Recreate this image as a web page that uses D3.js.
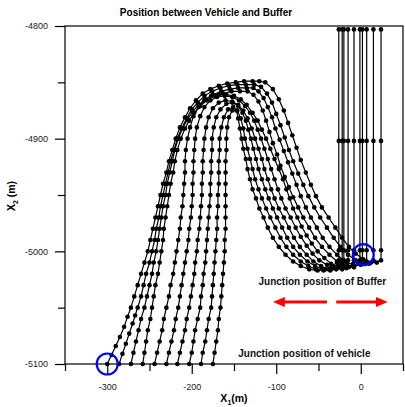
<!DOCTYPE html>
<head>
    <meta charset="utf-8">
    <title>Position between Vehicle and Buffer</title>
    <style>
        body { margin: 0; background: #fff; }
        text { font-family: "Liberation Sans", Arial, sans-serif; }
    </style>
</head>
<body>

<script src="https://d3js.org/d3.v7.min.js"></script>

<script>
// vehicle trajectories [x1, x2] in metres, outermost first
let traj1 = [[-300,-5100],[-295,-5092],[-290,-5084],[-285,-5076],[-280,-5067],[-276,-5058],[-272,-5050],[-268,-5040],[-264,-5030],[-260,-5020],[-256,-5010],[-252,-5000],[-249,-4990],[-246,-4980],[-243,-4970],[-240,-4960],[-237,-4950],[-234,-4940],[-230,-4930],[-227,-4920],[-223,-4910],[-219,-4900],[-214,-4890],[-208,-4881],[-202,-4873],[-195,-4866],[-187,-4860],[-178,-4856],[-168,-4853],[-158,-4851],[-148,-4850],[-138,-4849],[-128,-4849],[-120,-4849],
    [-113,-4850],[-104,-4856],[-97,-4865],[-91,-4875],[-86,-4886],[-81,-4897],[-76,-4908],[-71,-4919],[-65,-4930],[-59,-4941],[-53,-4951],[-46,-4961],[-38,-4970],[-30,-4979],[-22,-4988],[-14,-4996],[-6,-5002],[3,-5007],[12,-5010],[19,-5010],[24,-5008],[24,-4999],[24,-4902],[24,-4803]];
let traj2 = [[-286,-5100],[-282,-5091],[-278,-5082],[-274,-5073],[-270,-5064],[-267,-5057],[-264,-5050],[-260,-5040],[-257,-5030],[-254,-5020],[-250,-5010],[-247,-5000],[-244,-4990],[-242,-4980],[-239,-4970],[-237,-4960],[-234,-4950],[-231,-4940],[-228,-4930],[-225,-4920],[-221,-4910],[-217,-4900],[-212,-4891],[-206,-4882],[-200,-4874],[-193,-4868],[-185,-4862],[-176,-4858],[-166,-4855],[-156,-4853],[-146,-4852],[-136,-4852],[-126,-4852],
    [-118,-4854],[-111,-4860],[-105,-4868],[-100,-4878],[-95,-4888],[-90,-4899],[-85,-4910],[-80,-4920],[-74,-4931],[-68,-4941],[-62,-4951],[-55,-4961],[-48,-4970],[-40,-4979],[-32,-4988],[-24,-4996],[-15,-5003],[-6,-5008],[3,-5011],[10,-5011],[15,-5008],[15,-4999],[15,-4902],[15,-4803]];
let traj3 = [[-272,-5100],[-269,-5090],[-266,-5080],[-263,-5070],[-260,-5060],[-256,-5050],[-253,-5040],[-250,-5030],[-247,-5020],[-245,-5010],[-242,-5000],[-240,-4990],[-238,-4980],[-236,-4970],[-234,-4960],[-231,-4950],[-229,-4940],[-226,-4930],[-223,-4920],[-220,-4910],[-216,-4900],[-211,-4891],[-205,-4883],[-199,-4876],[-192,-4870],[-184,-4865],[-175,-4861],[-165,-4858],[-155,-4856],[-145,-4855],[-135,-4855],[-127,-4855],
    [-121,-4858],[-115,-4864],[-110,-4872],[-105,-4881],[-101,-4891],[-96,-4901],[-91,-4911],[-86,-4921],[-81,-4931],[-76,-4941],[-71,-4951],[-65,-4961],[-59,-4970],[-52,-4979],[-45,-4988],[-37,-4996],[-28,-5003],[-19,-5009],[-9,-5012],[0,-5012],[7,-5009],[7,-4999],[7,-4902],[7,-4803]];
let traj4 = [[-258,-5100],[-256,-5090],[-254,-5080],[-252,-5070],[-249,-5060],[-247,-5050],[-245,-5040],[-243,-5030],[-240,-5020],[-238,-5010],[-236,-5000],[-234,-4990],[-233,-4980],[-231,-4970],[-229,-4960],[-227,-4950],[-225,-4940],[-222,-4930],[-220,-4920],[-217,-4910],[-213,-4900],[-208,-4891],[-203,-4884],[-197,-4877],[-190,-4871],[-182,-4866],[-173,-4862],[-163,-4860],[-153,-4858],[-143,-4858],[-134,-4858],
    [-127,-4861],[-121,-4867],[-116,-4875],[-112,-4884],[-108,-4894],[-104,-4904],[-99,-4914],[-95,-4924],[-90,-4934],[-85,-4943],[-80,-4952],[-74,-4961],[-68,-4970],[-61,-4979],[-54,-4988],[-46,-4996],[-37,-5003],[-28,-5009],[-18,-5013],[-8,-5014],[-1,-5011],[2,-5008],[2,-4999],[2,-4902],[2,-4803]];
let traj5 = [[-244,-5100],[-241,-5090],[-238,-5080],[-235,-5070],[-233,-5060],[-230,-5050],[-227,-5040],[-225,-5030],[-222,-5020],[-220,-5010],[-218,-5000],[-216,-4990],[-214,-4980],[-213,-4970],[-211,-4960],[-210,-4950],[-209,-4940],[-208,-4930],[-208,-4920],[-207,-4910],[-205,-4900],[-202,-4890],[-198,-4880],[-192,-4872],[-185,-4866],[-177,-4862],[-168,-4861],[-159,-4861],[-150,-4862],[-142,-4865],[-135,-4870],
    [-128,-4877],[-122,-4884],[-117,-4892],[-112,-4900],[-107,-4909],[-102,-4918],[-97,-4927],[-92,-4936],[-88,-4945],[-84,-4953],[-80,-4962],[-75,-4970],[-70,-4978],[-64,-4986],[-58,-4993],[-51,-5000],[-43,-5006],[-35,-5011],[-26,-5014],[-17,-5015],[-8,-5014],[-2,-5011],[-1,-5008],[-1,-4999],[-1,-4902],[-1,-4803]];
let traj6 = [[-230,-5100],[-227,-5090],[-224,-5080],[-221,-5070],[-219,-5060],[-216,-5050],[-214,-5040],[-212,-5030],[-210,-5020],[-208,-5010],[-206,-5000],[-204,-4990],[-203,-4980],[-201,-4970],[-200,-4960],[-199,-4950],[-199,-4940],[-198,-4930],[-198,-4920],[-197,-4910],[-196,-4900],[-194,-4890],[-190,-4880],[-185,-4872],[-178,-4866],[-170,-4863],[-161,-4862],[-152,-4863],[-144,-4866],[-137,-4871],
    [-131,-4877],[-126,-4884],[-122,-4892],[-118,-4900],[-114,-4909],[-110,-4918],[-106,-4927],[-102,-4936],[-98,-4945],[-94,-4953],[-89,-4962],[-83,-4970],[-77,-4979],[-71,-4987],[-64,-4995],[-57,-5002],[-49,-5008],[-40,-5012],[-31,-5015],[-22,-5016],[-14,-5014],[-9,-5011],[-8,-5008],[-8,-4999],[-8,-4902],[-8,-4803]];
let traj7 = [[-217,-5100],[-214,-5090],[-211,-5080],[-208,-5070],[-206,-5060],[-203,-5050],[-201,-5040],[-199,-5030],[-197,-5020],[-196,-5010],[-194,-5000],[-193,-4990],[-191,-4980],[-190,-4970],[-189,-4960],[-188,-4950],[-188,-4940],[-187,-4930],[-187,-4920],[-186,-4910],[-185,-4900],[-183,-4890],[-180,-4881],[-175,-4873],[-168,-4868],[-160,-4866],[-152,-4867],[-145,-4870],
    [-139,-4875],[-134,-4882],[-129,-4891],[-125,-4900],[-121,-4909],[-117,-4918],[-114,-4927],[-110,-4936],[-106,-4945],[-102,-4953],[-97,-4962],[-91,-4970],[-85,-4979],[-79,-4988],[-72,-4996],[-64,-5003],[-56,-5009],[-47,-5013],[-38,-5016],[-29,-5016],[-21,-5014],[-16,-5011],[-15,-5008],[-15,-4999],[-15,-4902],[-15,-4803]];
let traj8 = [[-203,-5100],[-200,-5090],[-198,-5080],[-196,-5070],[-193,-5060],[-190,-5050],[-189,-5040],[-187,-5030],[-186,-5020],[-184,-5010],[-183,-5000],[-182,-4990],[-181,-4980],[-180,-4970],[-179,-4960],[-178,-4950],[-178,-4940],[-177,-4930],[-177,-4920],[-176,-4910],[-176,-4900],[-174,-4890],[-171,-4881],[-166,-4874],[-159,-4869],[-152,-4868],[-145,-4871],
    [-140,-4877],[-136,-4884],[-133,-4892],[-130,-4900],[-127,-4909],[-124,-4918],[-121,-4927],[-117,-4936],[-113,-4945],[-109,-4953],[-104,-4962],[-99,-4970],[-93,-4979],[-87,-4988],[-80,-4996],[-72,-5003],[-63,-5009],[-54,-5013],[-45,-5016],[-36,-5017],[-28,-5015],[-22,-5011],[-20,-5008],[-20,-4999],[-20,-4902],[-20,-4803]];
let traj9 = [[-189,-5100],[-187,-5090],[-184,-5080],[-182,-5070],[-180,-5060],[-177,-5050],[-176,-5040],[-175,-5030],[-174,-5020],[-173,-5010],[-172,-5000],[-171,-4990],[-170,-4980],[-170,-4970],[-169,-4960],[-169,-4950],[-168,-4940],[-168,-4930],[-168,-4920],[-167,-4910],[-167,-4900],[-165,-4890],[-162,-4881],[-157,-4874],[-151,-4872],[-146,-4875],
    [-142,-4882],[-139,-4891],[-137,-4900],[-134,-4909],[-131,-4918],[-128,-4927],[-125,-4936],[-121,-4945],[-117,-4953],[-112,-4962],[-107,-4970],[-101,-4979],[-95,-4988],[-88,-4996],[-80,-5003],[-71,-5009],[-62,-5013],[-53,-5016],[-44,-5017],[-35,-5016],[-27,-5013],[-23,-5010],[-22,-5008],[-22,-4999],[-22,-4902],[-22,-4803]];
let traj10 = [[-175,-5100],[-173,-5090],[-171,-5080],[-169,-5070],[-168,-5060],[-166,-5050],[-165,-5040],[-164,-5030],[-163,-5020],[-162,-5010],[-161,-5000],[-161,-4990],[-160,-4980],[-160,-4970],[-160,-4960],[-160,-4950],[-160,-4940],[-160,-4930],[-160,-4920],[-159,-4910],[-159,-4900],[-158,-4890],[-156,-4881],[-152,-4875],[-147,-4875],
    [-145,-4882],[-143,-4891],[-141,-4900],[-139,-4909],[-136,-4918],[-134,-4927],[-131,-4936],[-128,-4945],[-124,-4953],[-120,-4962],[-115,-4970],[-110,-4979],[-104,-4988],[-97,-4996],[-89,-5003],[-80,-5009],[-71,-5013],[-61,-5016],[-51,-5017],[-42,-5016],[-34,-5013],[-28,-5010],[-26,-5008],[-26,-4999],[-26,-4902],[-26,-4803]];

let trajectories = [traj1, traj2, traj3, traj4, traj5, traj6, traj7, traj8, traj9, traj10];

let xTicks = [-300, -200, -100, 0];
let xMinorTicks = [-350, -250, -150, -50, 50];
let yTicks = [-4800, -4900, -5000, -5100];
let yMinorTicks = [-4850, -4950, -5050];

// blue rings: junction of vehicle, junction of buffer
let junctions = [[-300, -5100], [3, -5003]];
// red arrows: [from x1, to x1] at x2 = -5045
let arrows = [[-40, -104], [-29, 32]];
let arrowLevel = -5045;

let width = 405;
let height = 407;
let svg = d3.select("body").append("svg")
    .attr("width", width)
    .attr("height", height)
    .style("background", "#fff");

let x = d3.scaleLinear().domain([-350, 50]).range([65, 403]);
let y = d3.scaleLinear().domain([-5100, -4800]).range([364, 26]);

// plain hyphen labels, no thousands separator
let plain = d => String(d);

// title
svg.append("text")
    .attr("x", 206)
    .attr("y", 16)
    .attr("text-anchor", "middle")
    .style("font-size", "10px")
    .style("font-weight", "bold")
    .text("Position between Vehicle and Buffer");

// axes
let xAxis = svg.append("g")
    .attr("transform", `translate(0, ${y(-5100)})`)
    .call(d3.axisBottom(x).tickValues(xTicks).tickFormat(plain).tickSize(10).tickPadding(10).tickSizeOuter(0));
let xMinor = svg.append("g")
    .attr("transform", `translate(0, ${y(-5100)})`)
    .call(d3.axisBottom(x).tickValues(xMinorTicks).tickSize(7).tickFormat("").tickSizeOuter(0));
let yAxis = svg.append("g")
    .attr("transform", `translate(${x(-350)}, 0)`)
    .call(d3.axisLeft(y).tickValues(yTicks).tickFormat(plain).tickSize(10).tickPadding(7).tickSizeOuter(0));
let yMinor = svg.append("g")
    .attr("transform", `translate(${x(-350)}, 0)`)
    .call(d3.axisLeft(y).tickValues(yMinorTicks).tickSize(7).tickFormat("").tickSizeOuter(0));

[xAxis, xMinor, yAxis, yMinor].forEach(g => {
    g.select(".domain").remove();
    g.selectAll("line").attr("stroke", "#000").attr("stroke-width", 1.2);
    g.selectAll("text")
        .attr("fill", "#222")
        .style("font-size", "9px")
        .style("font-family", '"Liberation Sans", Arial, sans-serif');
});

// frame
svg.append("rect")
    .attr("x", x(-350))
    .attr("y", y(-4800))
    .attr("width", x(50) - x(-350))
    .attr("height", y(-5100) - y(-4800))
    .attr("fill", "none")
    .attr("stroke", "#000")
    .attr("stroke-width", 1.2);

// axis titles
let xTitle = svg.append("text")
    .attr("x", 234)
    .attr("y", 402)
    .attr("text-anchor", "middle")
    .style("font-size", "10.5px")
    .style("font-weight", "bold");
xTitle.append("tspan").text("X");
xTitle.append("tspan").attr("dy", 3).style("font-size", "7px").text("1");
xTitle.append("tspan").attr("dy", -3).text("(m)");

let yTitle = svg.append("text")
    .attr("transform", "translate(15, 196) rotate(-90)")
    .attr("text-anchor", "middle")
    .style("font-size", "10.5px")
    .style("font-weight", "bold");
yTitle.append("tspan").text("X");
yTitle.append("tspan").attr("dy", 3).style("font-size", "7px").text("2");
yTitle.append("tspan").attr("dy", -3).text(" (m)");

// trajectories
let line = d3.line()
    .x(d => x(d[0]))
    .y(d => y(d[1]));

let plot = svg.append("g");

plot.selectAll(".traj")
    .data(trajectories)
    .join("path")
    .attr("class", "traj")
    .attr("d", line)
    .attr("fill", "none")
    .attr("stroke", "#000")
    .attr("stroke-width", 1.2);

trajectories.forEach(function (t) {
    plot.append("g")
        .selectAll("circle")
        .data(t)
        .join("circle")
        .attr("cx", d => x(d[0]))
        .attr("cy", d => y(d[1]))
        .attr("r", 2.3)
        .attr("fill", "#000");
});

// junction rings
svg.selectAll(".ring")
    .data(junctions)
    .join("circle")
    .attr("class", "ring")
    .attr("cx", d => x(d[0]))
    .attr("cy", d => y(d[1]))
    .attr("r", 10.5)
    .attr("fill", "none")
    .attr("stroke", "#0000ff")
    .attr("stroke-width", 2.2);

// annotations
svg.append("text")
    .attr("x", x(-121))
    .attr("y", y(-5030))
    .style("font-size", "10px")
    .style("font-weight", "bold")
    .attr("fill", "#111")
    .text("Junction position of Buffer");

svg.append("text")
    .attr("x", x(-145))
    .attr("y", y(-5094))
    .style("font-size", "10px")
    .style("font-weight", "bold")
    .attr("fill", "#111")
    .text("Junction position of vehicle");

svg.append("defs").append("marker")
    .attr("id", "head")
    .attr("viewBox", "0 0 12 10")
    .attr("refX", 6)
    .attr("refY", 5)
    .attr("markerUnits", "userSpaceOnUse")
    .attr("markerWidth", 12)
    .attr("markerHeight", 10)
    .attr("orient", "auto")
    .append("path")
    .attr("d", "M0,0 L12,5 L0,10 Z")
    .attr("fill", "#ff0000");

svg.selectAll(".arrow")
    .data(arrows)
    .join("line")
    .attr("class", "arrow")
    .attr("x1", d => x(d[0]))
    .attr("x2", d => x(d[1]) + (d[1] < d[0] ? 6 : -6))
    .attr("y1", y(arrowLevel))
    .attr("y2", y(arrowLevel))
    .attr("stroke", "#ff0000")
    .attr("stroke-width", 3)
    .attr("marker-end", "url(#head)");
</script>

</body>
